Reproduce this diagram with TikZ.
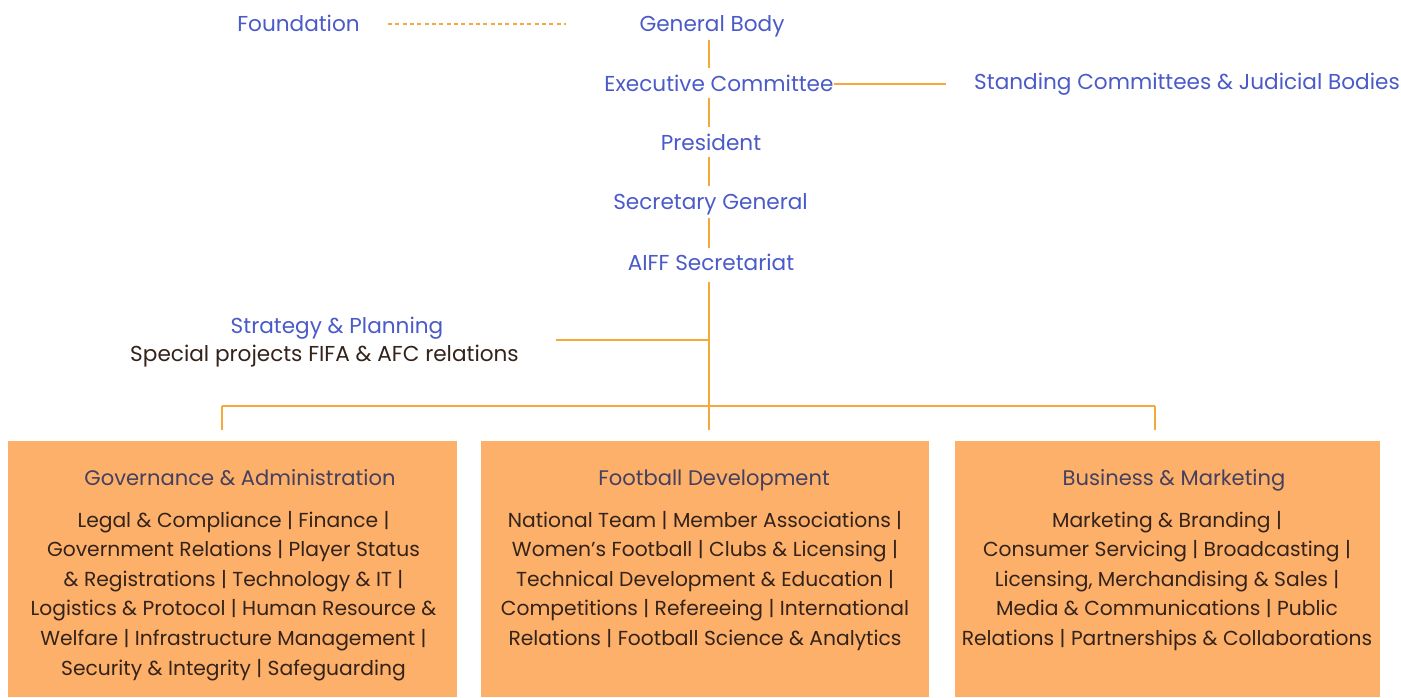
\documentclass[tikz,border=0pt]{standalone}
\usepackage{fontspec}
\setmainfont{Poppins}
\definecolor{lbl}{HTML}{4A5AC8}
\definecolor{ln}{HTML}{F6A93B}
\definecolor{boxfill}{HTML}{FDB06A}
\definecolor{head}{HTML}{45405E}
\definecolor{body}{HTML}{33231A}
\begin{document}
\begin{tikzpicture}[x=0.75pt, y=-0.75pt,
	lab/.style={text=lbl, anchor=base, font=\fontsize{16.2}{18}\selectfont, inner sep=0pt},
	conn/.style={ln, line width=1.5pt},
	unit/.style={fill=boxfill, draw=none, minimum width=#1*0.75pt, minimum height=192pt, inner sep=0pt},
	unithead/.style={text=head, anchor=base, font=\fontsize{15.8}{18}\selectfont, inner sep=0pt},
	unitbody/.style={text=body, anchor=base, align=center, font=\fontsize{15.2}{22.2}\selectfont, inner sep=0pt}]
	\useasboundingbox (0,0) rectangle (1401,697);

	\node[lab] (gbody) at (712,31) {General Body};
	\node[lab] (found) at (298.5,31) {Foundation};
	\node[lab] (exco) at (719,91) {Executive Committee};
	\node[lab] (standing) at (1187,89) {Standing Committees \& Judicial Bodies};
	\node[lab] (pres) at (711,150) {President};
	\node[lab] (secgen) at (710.5,209) {Secretary General};
	\node[lab] (secret) at (711,270) {AIFF Secretariat};
	\node[lab] (strat) at (337,333) {Strategy \& Planning};
	\node[lab, text=body] (spec) at (324.5,361) {Special projects FIFA \& AFC relations};

	\coordinate (fdot1) at (388,24);
	\coordinate (fdot2) at (566,24);
	\coordinate (exend) at (946,84);
	\coordinate (sp) at (556,340);
	\coordinate (spj) at (709,340);
	\coordinate (trunk) at (709,430);
	\coordinate (busL) at (222,406);
	\coordinate (busR) at (1155,406);

	\draw[conn, line width=1.2pt, dash pattern=on 3pt off 2.5pt] (fdot1) -- (fdot2);
	\draw[conn] (709,40) -- (709,68) (709,98) -- (709,127) (709,157) -- (709,186) (709,218) -- (709,248);
	\draw[conn] (exco.east |- exend) -- (exend);
	\draw[conn] (709,282) -- (trunk);
	\draw[conn] (sp) -- (spj);
	\draw[conn] (busL) -- (busR);
	\draw[conn] (busL) -- ++(0,24) (busR) -- ++(0,24);

	\node[unit=449] (gov) at (232.5,569) {};
	\node[unit=448] (fd) at (705,569) {};
	\node[unit=425] (bm) at (1167.5,569) {};

	\node[unithead] (govh) at (240,485) {Governance \& Administration};
	\node[unithead] (fdh) at (714,485) {Football Development};
	\node[unithead] (bmh) at (1174,485) {Business \& Marketing};

	\node[unitbody] (govb) at (233.5,675) {Legal \& Compliance | Finance |\\
		Government Relations | Player Status\\
		\& Registrations | Technology \& IT |\\
		Logistics \& Protocol | Human Resource \&\\
		Welfare | Infrastructure Management |\\
		Security \& Integrity | Safeguarding};
	\node[unitbody] (fdb) at (705,645.5) {National Team | Member Associations |\\
		Women’s Football | Clubs \& Licensing |\\
		Technical Development \& Education |\\
		Competitions | Refereeing | International\\
		Relations | Football Science \& Analytics};
	\node[unitbody] (bmb) at (1167,645.5) {Marketing \& Branding |\\
		Consumer Servicing | Broadcasting |\\
		Licensing, Merchandising \& Sales |\\
		Media \& Communications | Public\\
		Relations | Partnerships \& Collaborations};
\end{tikzpicture}
\end{document}
